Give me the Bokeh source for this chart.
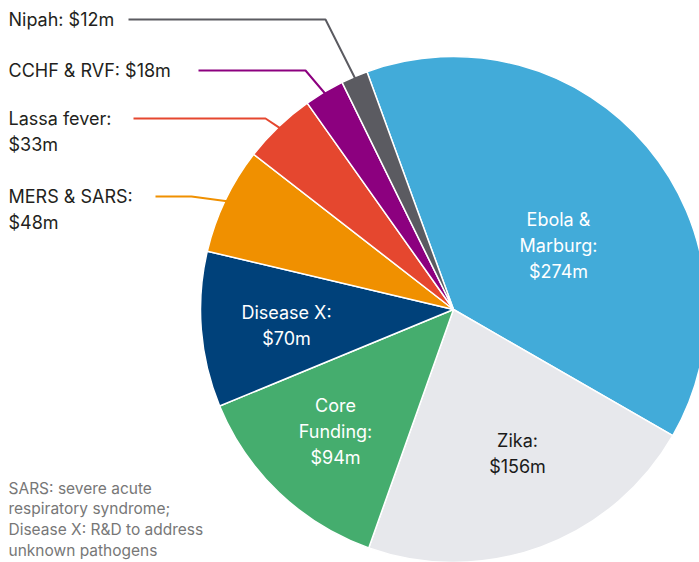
import math
from bokeh.plotting import figure
from bokeh.models import Range1d, ColumnDataSource
from bokeh.core.properties import value
from bokeh.embed import file_html
from bokeh.resources import INLINE

# ---- data ----
categories = ["Ebola & Marburg", "Zika", "Core Funding", "Disease X",
              "MERS & SARS", "Lassa fever", "CCHF & RVF", "Nipah"]
funding_musd = [274, 156, 94, 70, 48, 33, 18, 12]
label_texts = ["Ebola &\nMarburg:\n$274m", "Zika:\n$156m", "Core\nFunding:\n$94m",
               "Disease X:\n$70m", "MERS & SARS:\n$48m", "Lassa fever:\n$33m",
               "CCHF & RVF: $18m", "Nipah: $12m"]
colors = ["#42abd9", "#e7e8ec", "#45ad6e", "#00417a",
          "#f09000", "#e5472f", "#8c007f", "#5b5b61"]
footnote = "SARS: severe acute\nrespiratory syndrome;\nDisease X: R&D to address\nunknown pathogens"

# ---- layout ----
W, H = 699, 562
CX, CY, R = 453, 309, 253          # pixel coords (y down)
START_CW = -20.0                   # degrees clockwise from 12 o'clock
FONT = "Inter"

def py(y):
    return H - y

total = sum(funding_musd)
starts, ends, mids = [], [], []
acc = START_CW
for v in funding_musd:
    span = v / total * 360.0
    starts.append(math.radians(90 - acc))
    ends.append(math.radians(90 - (acc + span)))
    mids.append(acc + span / 2)
    acc += span

p = figure(width=W, height=H, x_range=Range1d(0, W), y_range=Range1d(0, H),
           output_backend="svg", toolbar_location=None, min_border=0)
p.axis.visible = False
p.grid.visible = False
p.outline_line_color = None
p.background_fill_color = "white"

src = ColumnDataSource(dict(start=starts, end=ends, color=colors, cat=categories))
p.wedge(x=CX, y=py(CY), radius=R, start_angle="start", end_angle="end",
        direction="clock", fill_color="color", line_color="white",
        line_width=1.5, source=src)

# inside labels (index, x, y center in px, color)
inside = [(0, 558, 245, "white"), (1, 517, 453, "#1a1a1a"),
          (2, 335, 431, "white"), (3, 286, 325, "white")]
for i, x, y, c in inside:
    p.text(x=[x], y=[py(y)], text=[label_texts[i]], text_align="center",
           text_baseline="middle", text_color=c, text_font=value(FONT),
           text_font_size="18px", text_line_height=1.25)

# outside labels with leader lines: (index, text_x, text_top_y, line_start_x, line_y, knee_x)
outside = [(7, 8, 8, 128, 19, 325),
           (6, 8, 59, 198, 70, 305),
           (5, 8, 107, 133, 118, 265),
           (4, 8, 185, 155, 196, 191)]
for i, tx, ty, lx, ly, kx in outside:
    a = math.radians(mids[i])
    ex = CX + (R - 2) * math.sin(a)
    ey = CY - (R - 2) * math.cos(a)
    p.line(x=[lx, kx, ex], y=[py(ly), py(ly), py(ey)], line_color=colors[i],
           line_width=2)
    p.text(x=[tx], y=[py(ty)], text=[label_texts[i]], text_align="left",
           text_baseline="top", text_color="#231f20", text_font=value(FONT),
           text_font_size="18px", text_line_height=1.25)

p.text(x=[8], y=[py(478)], text=[footnote], text_align="left", text_baseline="top",
       text_color="#777777", text_font=value(FONT), text_font_size="15.5px",
       text_line_height=1.1)

open("out.html", "w").write(file_html(p, INLINE))
